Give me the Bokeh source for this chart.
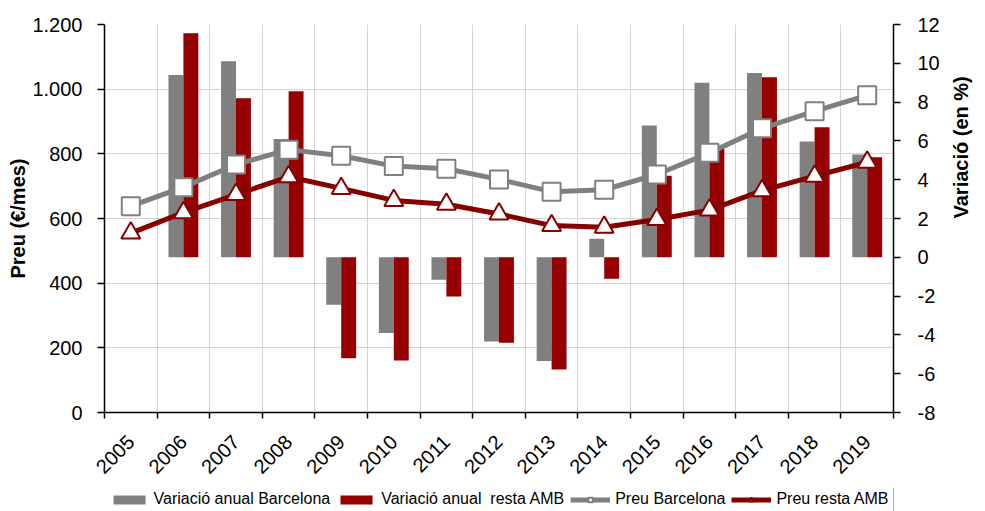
import math
import numpy as np
from bokeh.plotting import figure
from bokeh.layouts import column
from bokeh.models import (Range1d, LinearAxis, FixedTicker, Legend, LegendItem,
                          ColumnDataSource)
from bokeh.embed import file_html
from bokeh.resources import INLINE

# ---- data ----
years = ["2005", "2006", "2007", "2008", "2009", "2010", "2011", "2012",
         "2013", "2014", "2015", "2016", "2017", "2018", "2019"]
var_bcn = [None, 9.4, 10.1, 6.1, -2.45, -3.9, -1.16, -4.34, -5.35, 0.95,
           6.8, 9.0, 9.5, 5.97, 5.3]
var_amb = [None, 11.55, 8.2, 8.56, -5.2, -5.32, -2.02, -4.41, -5.78, -1.11,
           4.2, 5.6, 9.28, 6.7, 5.16]
preu_bcn = [638, 697, 767, 813, 794, 762, 754, 721, 683, 689, 736, 803, 879, 932, 981]
preu_amb = [555, 618, 674, 729, 693, 656, 644, 614, 578, 573, 597, 626, 686, 731, 774]
left_ticks = [0, 200, 400, 600, 800, 1000, 1200]
left_labels = ["0", "200", "400", "600", "800", "1.000", "1.200"]
right_ticks = [-8, -6, -4, -2, 0, 2, 4, 6, 8, 10, 12]
right_labels = ["-8", "-6", "-4", "-2", "0", "2", "4", "6", "8", "10", "12"]
series_names = ["Variació anual Barcelona", "Variació anual  resta AMB",
                "Preu Barcelona", "Preu resta AMB"]

FONT = "Liberation Sans"
GRAY = "#808080"
RED_BAR = "#960000"
RED_LINE = "#870000"

n = len(years)
xc = [i + 0.5 for i in range(n)]
bw = 0.284

src = ColumnDataSource(dict(
    x=xc,
    xg=[v - bw / 2 for v in xc],
    xr=[v + bw / 2 for v in xc],
    vb=[np.nan if v is None else v for v in var_bcn],
    va=[np.nan if v is None else v for v in var_amb],
    pb=preu_bcn,
    pa=preu_amb,
))

p = figure(width=985, height=487, output_backend="svg", toolbar_location=None,
           x_range=Range1d(0, n), y_range=Range1d(0, 1200),
           min_border_left=104, min_border_right=88, min_border_top=24,
           min_border_bottom=75)
p.extra_y_ranges = {"pct": Range1d(-8, 12)}
p.outline_line_color = None

# grids
p.ygrid.grid_line_color = "#d4d4d4"
p.ygrid.grid_line_width = 1
p.xgrid.ticker = FixedTicker(ticks=list(range(n + 1)))
p.xgrid.grid_line_color = "#d4d4d4"
p.xgrid.grid_line_width = 1

# bars (right axis)
p.vbar(x="xg", top="vb", bottom=0, width=bw, source=src, y_range_name="pct",
       fill_color=GRAY, line_color=None)
p.vbar(x="xr", top="va", bottom=0, width=bw, source=src, y_range_name="pct",
       fill_color=RED_BAR, line_color=None)

# lines (left axis)
p.line(x="x", y="pb", source=src, line_color=GRAY, line_width=5)
p.scatter(x="x", y="pb", source=src, marker="square", size=18,
          fill_color="white", line_color=GRAY, line_width=2)
p.line(x="x", y="pa", source=src, line_color=RED_LINE, line_width=5)
p.scatter(x="x", y="pa", source=src, marker="triangle", size=19,
          fill_color="white", line_color=RED_LINE, line_width=2)

# left axis
ya = p.yaxis[0]
ya.ticker = FixedTicker(ticks=left_ticks)
ya.major_label_overrides = {t: l for t, l in zip(left_ticks, left_labels)}
ya.axis_label = "Preu (€/mes)"

# x axis
xa = p.xaxis[0]
xa.ticker = FixedTicker(ticks=xc, minor_ticks=list(range(n + 1)))
xa.major_label_overrides = {c: y for c, y in zip(xc, years)}
xa.major_label_orientation = math.pi / 4
xa.major_tick_out = 0
xa.major_tick_in = 0
xa.minor_tick_out = 6
xa.minor_tick_in = 0
xa.minor_tick_line_color = "black"
xa.minor_tick_line_width = 1.5
xa.major_label_standoff = 20

# right axis
ra = LinearAxis(y_range_name="pct", ticker=FixedTicker(ticks=right_ticks))
ra.major_label_overrides = {t: l for t, l in zip(right_ticks, right_labels)}
ra.axis_label = "Variació (en %)"
p.add_layout(ra, "right")
ra.axis_label_orientation = math.pi / 2

for ax in [ya, xa, ra]:
    ax.axis_line_color = "black"
    ax.axis_line_width = 1.5
    ax.major_tick_line_color = "black"
    ax.major_tick_line_width = 1.5
    ax.major_label_text_font = FONT
    ax.major_label_text_font_size = "20px"
    ax.major_label_text_color = "black"
    ax.axis_label_text_font = FONT
    ax.axis_label_text_font_size = "20px"
    ax.axis_label_text_font_style = "bold"
    ax.axis_label_text_color = "black"

for ax in [ya, ra]:
    ax.major_tick_out = 7
    ax.major_tick_in = 0
    ax.minor_tick_out = 0
    ax.minor_tick_in = 0
ya.major_label_standoff = 15
ya.axis_label_standoff = 0
ra.major_label_standoff = 17
ra.axis_label_standoff = 18

# ---- legend strip (separate figure under the chart, same styles) ----
q = figure(width=985, height=24, output_backend="svg", toolbar_location=None,
           x_range=Range1d(0, 1), y_range=Range1d(0, 1),
           x_axis_type=None, y_axis_type=None,
           min_border_left=0, min_border_right=0, min_border_top=0,
           min_border_bottom=0)
q.outline_line_color = None
q.grid.visible = False
lb1 = q.vbar(x=[5], top=[5], width=1, fill_color=GRAY, line_color=None)
lb2 = q.vbar(x=[5], top=[5], width=1, fill_color=RED_BAR, line_color=None)
ll1 = q.line(x=[5, 6], y=[5, 6], line_color=GRAY, line_width=5)
lm1 = q.scatter(x=[5], y=[5], marker="square", size=16, fill_color="white",
                line_color=GRAY, line_width=2)
ll2 = q.line(x=[5, 6], y=[5, 6], line_color=RED_LINE, line_width=5)
lm2 = q.scatter(x=[5], y=[5], marker="triangle", size=17, fill_color="white",
                line_color=RED_LINE, line_width=2)

legend = Legend(items=[
    LegendItem(label=series_names[0], renderers=[lb1]),
    LegendItem(label=series_names[1], renderers=[lb2]),
    LegendItem(label=series_names[2], renderers=[ll1, lm1]),
    LegendItem(label=series_names[3], renderers=[ll2, lm2]),
], orientation="horizontal", location="center", padding=0, margin=0,
    spacing=6, label_standoff=5, glyph_width=40, glyph_height=11,
    border_line_alpha=0, background_fill_alpha=0,
    label_text_font=FONT, label_text_font_size="16px", label_text_color="black")
q.add_layout(legend, "center")

layout = column(p, q, spacing=0)
open("out.html", "w").write(file_html(layout, INLINE))
